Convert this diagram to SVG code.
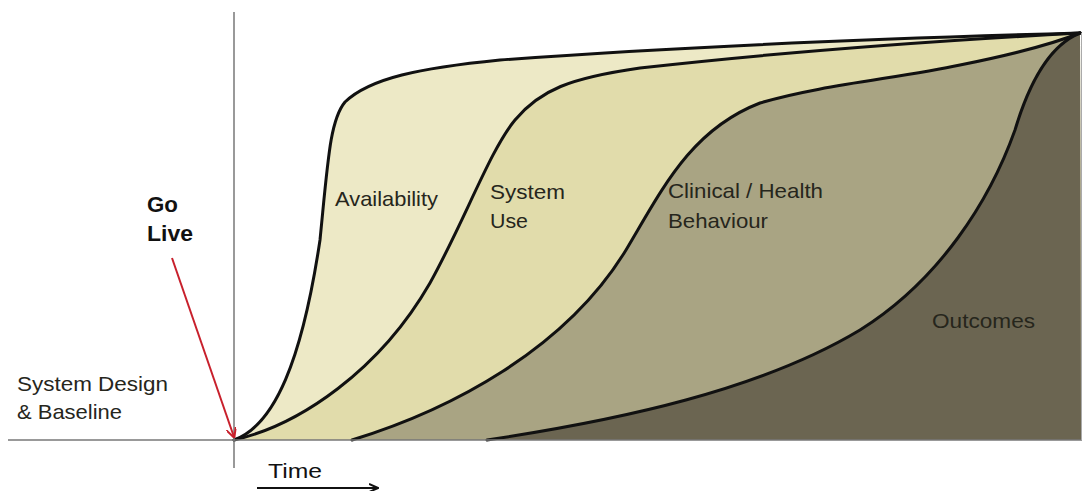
<svg xmlns="http://www.w3.org/2000/svg" width="1083" height="491" viewBox="0 0 1083 491">
<style>
.lbl{font-family:"Liberation Sans",Arial,sans-serif;font-size:21px;fill:#26261c}
.bold{font-weight:bold;font-size:22px;fill:#111}
.curve{fill:none;stroke:#111;stroke-width:3;stroke-linecap:round}
.axis{stroke:#777;stroke-width:1.5;fill:none}
</style>
<defs>
<marker id="redhead" markerWidth="10" markerHeight="10" refX="9" refY="5" orient="auto" markerUnits="userSpaceOnUse">
<path d="M0,0 L10,5 L0,10" fill="none" stroke="#c8202c" stroke-width="2"/>
</marker>
<marker id="blackhead" markerWidth="10" markerHeight="10" refX="9" refY="5" orient="auto" markerUnits="userSpaceOnUse">
<path d="M0,1 L9,5 L0,9" fill="none" stroke="#111" stroke-width="2"/>
</marker>
</defs>
<rect width="1083" height="491" fill="#fff"/>
<g id="availability">
<path d="M234,440 C275,425 302,360 320,240 C328,160 330,120 345,102 C370,78 420,68 500,60 C700,45 900,38 1080,33 L1081,440 Z" fill="#ede9c6"/>
</g>
<g id="system-use">
<path d="M234,440 C300,425 380,370 430,283 C465,220 490,150 515,120 C540,90 570,78 640,68 C800,50 950,40 1080,33 L1081,440 Z" fill="#e1dcab"/>
</g>
<g id="clinical">
<path d="M352,440 C450,410 565,350 626,250 C662,190 690,130 760,103 C820,85 900,78 960,65 C1010,55 1050,45 1080,33 L1081,440 Z" fill="#a9a483"/>
</g>
<g id="outcomes">
<path d="M487,440 C620,420 760,390 860,330 C940,280 990,200 1015,130 C1030,80 1050,45 1080,33 L1081,440 Z" fill="#6b6551"/>
</g>
<g id="connectors">
<path class="curve" d="M234,440 C275,425 302,360 320,240 C328,160 330,120 345,102 C370,78 420,68 500,60 C700,45 900,38 1080,33"/>
<path class="curve" d="M234,440 C300,425 380,370 430,283 C465,220 490,150 515,120 C540,90 570,78 640,68 C800,50 950,40 1080,33"/>
<path class="curve" d="M352,440 C450,410 565,350 626,250 C662,190 690,130 760,103 C820,85 900,78 960,65 C1010,55 1050,45 1080,33"/>
<path class="curve" d="M487,440 C620,420 760,390 860,330 C940,280 990,200 1015,130 C1030,80 1050,45 1080,33"/>
<line class="axis" x1="8" y1="440" x2="1082" y2="440"/>
<line class="axis" x1="234" y1="12" x2="234" y2="468"/>
<line x1="1081.5" y1="33" x2="1081.5" y2="440" stroke="#aaa" stroke-width="1"/>
<line x1="172" y1="258" x2="234" y2="437" stroke="#c8202c" stroke-width="2" marker-end="url(#redhead)"/>
<line x1="257" y1="488" x2="378" y2="488" stroke="#111" stroke-width="2" marker-end="url(#blackhead)"/>
</g>
<g id="labels">
<text class="lbl" x="335" y="206" textLength="103" lengthAdjust="spacingAndGlyphs">Availability</text>
<text class="lbl" x="490" y="199" textLength="75" lengthAdjust="spacingAndGlyphs">System</text>
<text class="lbl" x="490" y="228" textLength="38" lengthAdjust="spacingAndGlyphs">Use</text>
<text class="lbl" x="668" y="198" textLength="155" lengthAdjust="spacingAndGlyphs">Clinical / Health</text>
<text class="lbl" x="668" y="228" textLength="100" lengthAdjust="spacingAndGlyphs">Behaviour</text>
<text class="lbl" x="932" y="328" textLength="103" lengthAdjust="spacingAndGlyphs">Outcomes</text>
<text class="lbl bold" x="147" y="212" textLength="31" lengthAdjust="spacingAndGlyphs">Go</text>
<text class="lbl bold" x="147" y="241" textLength="46" lengthAdjust="spacingAndGlyphs">Live</text>
<text class="lbl" x="17" y="391" textLength="151" lengthAdjust="spacingAndGlyphs">System Design</text>
<text class="lbl" x="17" y="419" textLength="105" lengthAdjust="spacingAndGlyphs">&amp; Baseline</text>
<text class="lbl" x="268" y="478" textLength="54" lengthAdjust="spacingAndGlyphs" style="fill:#111">Time</text>
</g>
</svg>
